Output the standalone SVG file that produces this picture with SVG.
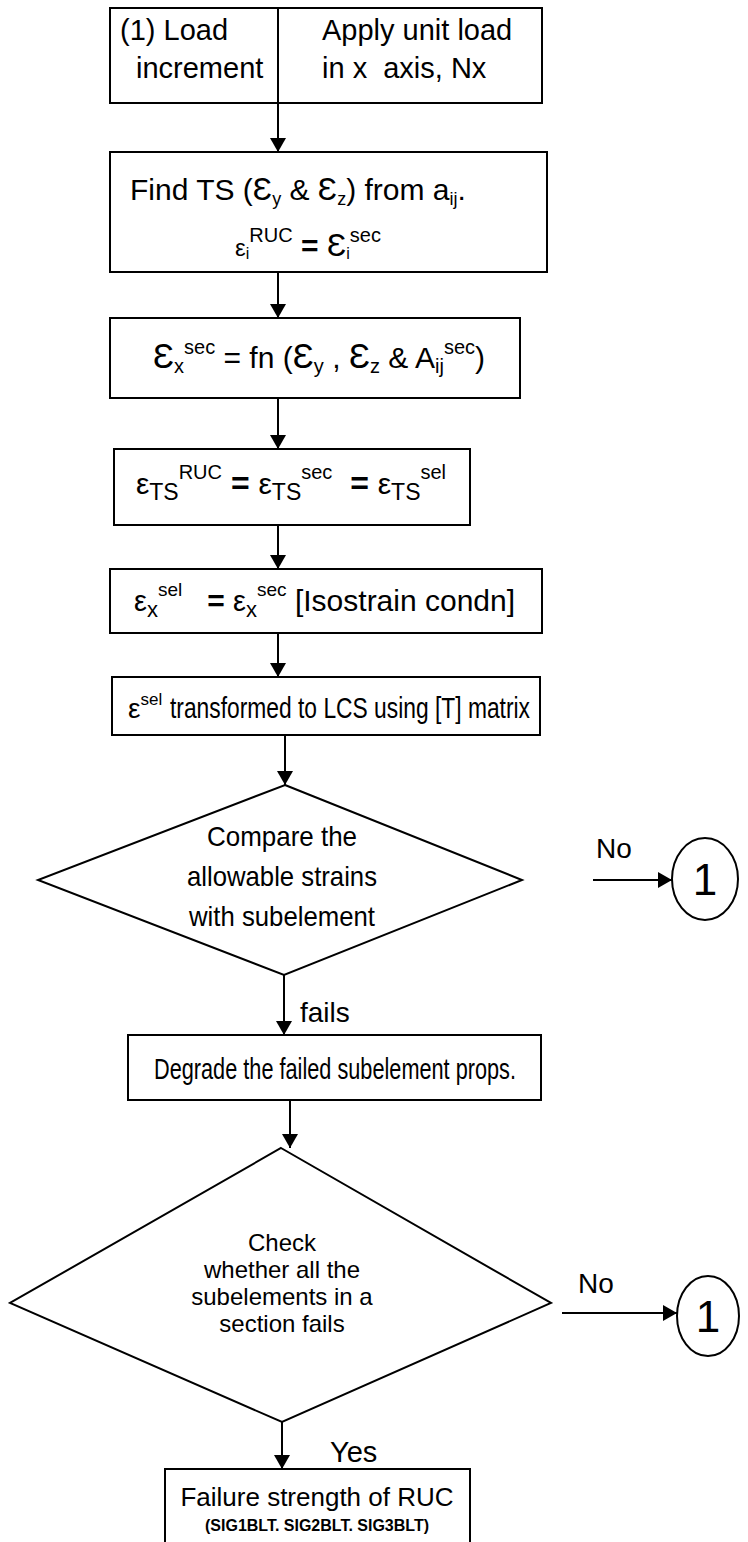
<svg xmlns="http://www.w3.org/2000/svg" width="748" height="1542" viewBox="0 0 748 1542">
  <style>
    .box { fill: #fff; stroke: #000; stroke-width: 2; }
    .ln { fill: none; stroke: #000; stroke-width: 2; }
    text { font-family: "Liberation Sans", Arial, sans-serif; fill: #000; white-space: pre; }
    .t { font-size: 29px; }
    .m { font-size: 28px; }
    .sm { font-size: 24px; }
    .bold { font-weight: bold; }
  </style>
  <defs>
    <marker id="arrow" viewBox="0 0 14 16" refX="14" refY="8" markerWidth="14" markerHeight="16" markerUnits="userSpaceOnUse" orient="auto">
      <path d="M0,0 L14,8 L0,16 Z" fill="#000"/>
    </marker>
  </defs>

  <!-- connectors -->
  <g id="connectors" class="ln">
    <line x1="278" y1="103" x2="278" y2="152" marker-end="url(#arrow)"/>
    <line x1="278" y1="272" x2="278" y2="318" marker-end="url(#arrow)"/>
    <line x1="278" y1="398" x2="278" y2="449" marker-end="url(#arrow)"/>
    <line x1="278" y1="525" x2="278" y2="569" marker-end="url(#arrow)"/>
    <line x1="278" y1="633" x2="278" y2="677" marker-end="url(#arrow)"/>
    <line x1="285" y1="735" x2="285" y2="785" marker-end="url(#arrow)"/>
    <line x1="593" y1="880" x2="672" y2="880" marker-end="url(#arrow)"/>
    <line x1="284" y1="975" x2="284" y2="1035" marker-end="url(#arrow)"/>
    <line x1="290" y1="1100" x2="290" y2="1148" marker-end="url(#arrow)"/>
    <line x1="562" y1="1313" x2="677" y2="1313" marker-end="url(#arrow)"/>
    <line x1="282" y1="1422" x2="282" y2="1469" marker-end="url(#arrow)"/>
  </g>

  <!-- start: load increment -->
  <g id="n-start">
    <rect class="box" x="110" y="8" width="432" height="95"/>
    <line class="ln" x1="278" y1="8" x2="278" y2="103"/>
    <text class="t" x="120" y="40">(1) Load</text>
    <text class="t" x="136" y="78">increment</text>
    <text class="t" x="322" y="40">Apply unit load</text>
    <text class="t" x="322" y="78">in x  axis, Nx</text>
  </g>

  <!-- transverse strains -->
  <g id="n-find-ts">
    <rect class="box" x="110" y="152" width="437" height="120"/>
    <text font-size="30" x="130" y="200">Find TS (<tspan font-size="32">Ɛ</tspan><tspan font-size="18" dy="5">y</tspan><tspan dy="-5"> &amp; </tspan><tspan font-size="32">Ɛ</tspan><tspan font-size="18" dy="5">z</tspan><tspan dy="-5">) from a</tspan><tspan font-size="18" dy="5">ij</tspan><tspan dy="-5">.</tspan></text>
    <text x="308" y="256" text-anchor="middle"><tspan font-size="24">ε</tspan><tspan font-size="16" dy="3">i</tspan><tspan font-size="20" dy="-17">RUC</tspan><tspan class="bold" font-size="30" dy="14"> = </tspan><tspan font-size="32">Ɛ</tspan><tspan font-size="16" dy="3">i</tspan><tspan font-size="20" dy="-17">sec</tspan></text>
  </g>

  <!-- section strain -->
  <g id="n-sec-strain">
    <rect class="box" x="110" y="318" width="410" height="80"/>
    <text font-size="30" x="319" y="368" text-anchor="middle"><tspan font-size="35">Ɛ</tspan><tspan font-size="20" dy="5">x</tspan><tspan font-size="20" dy="-19">sec</tspan><tspan dy="14"> = fn (</tspan><tspan font-size="35">Ɛ</tspan><tspan font-size="20" dy="5">y</tspan><tspan dy="-5"> , </tspan><tspan font-size="35">Ɛ</tspan><tspan font-size="20" dy="5">z</tspan><tspan dy="-5"> &amp; A</tspan><tspan font-size="20" dy="5">ij</tspan><tspan font-size="20" dy="-19">sec</tspan><tspan dy="14">)</tspan></text>
  </g>

  <!-- transverse strain equality -->
  <g id="n-ts-equal">
    <rect class="box" x="114" y="449" width="356" height="76"/>
    <text x="291" y="494" text-anchor="middle"><tspan font-size="30">ε</tspan><tspan font-size="23" dy="6">TS</tspan><tspan font-size="20" dy="-21">RUC</tspan><tspan class="bold" font-size="32" dy="15"> = </tspan><tspan font-size="30">ε</tspan><tspan font-size="23" dy="6">TS</tspan><tspan font-size="20" dy="-21">sec</tspan><tspan class="bold" font-size="32" dy="15">  = </tspan><tspan font-size="30">ε</tspan><tspan font-size="23" dy="6">TS</tspan><tspan font-size="20" dy="-21">sel</tspan></text>
  </g>

  <!-- isostrain condition -->
  <g id="n-isostrain">
    <rect class="box" x="110" y="569" width="432" height="64"/>
    <text x="134" y="611"><tspan font-size="29">ε</tspan><tspan font-size="22" dy="6">x</tspan><tspan font-size="19" dy="-21">sel</tspan><tspan class="bold" font-size="30" dy="15">   = </tspan><tspan font-size="29">ε</tspan><tspan font-size="22" dy="6">x</tspan><tspan font-size="19" dy="-21">sec</tspan><tspan font-size="30" dy="15"> [Isostrain condn]</tspan></text>
  </g>

  <!-- transformation to LCS -->
  <g id="n-transform">
    <rect class="box" x="112" y="677" width="428" height="58"/>
    <text x="128" y="718"><tspan font-size="28">ε</tspan><tspan font-size="17" dy="-13">sel</tspan></text>
    <text x="170" y="718" font-size="29" textLength="360" lengthAdjust="spacingAndGlyphs">transformed to LCS using [T] matrix</text>
  </g>

  <!-- allowable strain check -->
  <g id="n-compare">
    <polygon class="box" points="285,785 522,880 284,975 38,880"/>
    <text class="m" x="207" y="846" textLength="150" lengthAdjust="spacingAndGlyphs">Compare the</text>
    <text class="m" x="187" y="886" textLength="190" lengthAdjust="spacingAndGlyphs">allowable strains</text>
    <text class="m" x="189" y="926" textLength="186" lengthAdjust="spacingAndGlyphs">with subelement</text>
    <text class="m" x="596" y="858">No</text>
    <text class="m" x="300" y="1022">fails</text>
  </g>

  <!-- connector 1 (top) -->
  <g id="n-conn1-a">
    <ellipse class="box" cx="705" cy="879" rx="33" ry="41"/>
    <text x="705" y="895" font-size="44" text-anchor="middle">1</text>
  </g>

  <!-- degrade properties -->
  <g id="n-degrade">
    <rect class="box" x="128" y="1035" width="413" height="65"/>
    <text class="t" x="154" y="1079" textLength="362" lengthAdjust="spacingAndGlyphs">Degrade the failed subelement props.</text>
  </g>

  <!-- section failure check -->
  <g id="n-section-check">
    <polygon class="box" points="281,1148 551,1303 282,1422 10,1303"/>
    <text class="sm" x="282" y="1251" text-anchor="middle">Check</text>
    <text class="sm" x="282" y="1278" text-anchor="middle">whether all the</text>
    <text class="sm" x="282" y="1305" text-anchor="middle">subelements in a</text>
    <text class="sm" x="282" y="1332" text-anchor="middle">section fails</text>
    <text class="m" x="578" y="1293">No</text>
    <text class="t" x="330" y="1462">Yes</text>
  </g>

  <!-- connector 1 (bottom) -->
  <g id="n-conn1-b">
    <ellipse class="box" cx="708" cy="1316" rx="31" ry="40"/>
    <text x="708" y="1332" font-size="44" text-anchor="middle">1</text>
  </g>

  <!-- result -->
  <g id="n-result">
    <rect class="box" x="165" y="1469" width="305" height="100"/>
    <text x="317" y="1506" font-size="26" text-anchor="middle">Failure strength of RUC</text>
    <text class="bold" x="317" y="1531" font-size="16" text-anchor="middle">(SIG1BLT. SIG2BLT. SIG3BLT)</text>
  </g>
</svg>
